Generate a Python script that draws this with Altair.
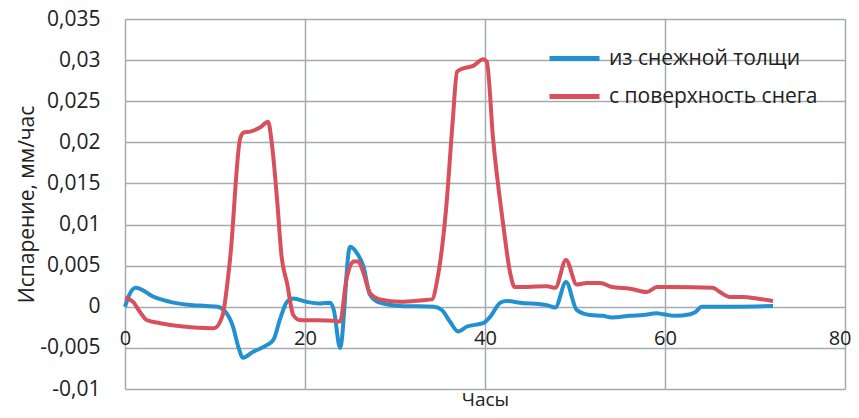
import altair as alt
import pandas as pd

# Series: из снежной толщи (blue)
blue_x = [0, 0.5, 1.2, 2, 3, 5, 7, 9, 10.3, 11, 12, 12.6, 13.1, 14.2, 15.7, 16.5, 17.2, 18, 18.7,
          20.2, 21.7, 22.8, 23.2, 23.9, 25, 25.9, 26.5, 27.2, 28.3, 30.6, 34.3, 35.2, 36.1, 37, 38,
          39.8, 40.6, 41.7, 42.4, 43.9, 46.9, 47.8, 49, 50.2, 51.7, 53.1, 54.1, 56.1, 57.6, 59.1,
          59.8, 61.1, 62.8, 63.3, 64.1, 65.3, 72]
blue_y = [0, 0.0015, 0.0023, 0.002, 0.0013, 0.0006, 0.00025, 0.0001, 0, -0.0004, -0.0024, -0.0049,
          -0.0062, -0.0055, -0.0047, -0.004, -0.0016, 0.0006, 0.001, 0.0006, 0.0004, 0.0005, -0.0004,
          -0.005, 0.0073, 0.0063, 0.0049, 0.0015, 0.0005, 0.0001, 0, -0.0004, -0.0018, -0.003, -0.0024,
          -0.002, -0.0012, 0.0005, 0.0007, 0.0005, 0.0002, -0.0001, 0.003, -0.0004, -0.001, -0.0011,
          -0.0013, -0.0011, -0.001, -0.0008, -0.0009, -0.0011, -0.0009, -0.0007, 0, 0, 0.0001]

# Series: с поверхность снега (red)
red_x = [0, 0.9, 1.7, 2.4, 3.9, 6.5, 9.5, 9.9, 10.8, 11.7, 12.8, 13.2, 13.9, 15, 15.9, 16.3, 16.9,
         17.4, 18, 18.7, 19.4, 23.1, 23.9, 24.6, 25.4, 25.9, 26.5, 27.2, 28.3, 30.6, 33.1, 34.1,
         34.7, 35.7, 36.4, 36.9, 37.6, 38.7, 39.8, 40.2, 40.9, 42, 42.8, 43.3, 46.9, 47.8, 49, 50.2,
         51.3, 52.8, 54.1, 56.1, 58, 59.1, 60.6, 65.3, 66.1, 67.2, 68.7, 70.2, 72]
red_y = [0.0011, 0.0006, -0.0007, -0.0016, -0.002, -0.0024, -0.0026, -0.0026, -0.0012, 0.0061,
         0.0205, 0.0212, 0.0213, 0.0218, 0.0225, 0.02, 0.013, 0.0061, 0.0029, -0.001, -0.0016,
         -0.0017, -0.0018, 0.0033, 0.0055, 0.0055, 0.0041, 0.0017, 0.0009, 0.0006, 0.0008, 0.0009,
         0.0033, 0.0122, 0.0224, 0.0286, 0.029, 0.0293, 0.0301, 0.0298, 0.0204, 0.0102, 0.0041,
         0.0024, 0.0025, 0.0023, 0.0057, 0.0027, 0.0029, 0.0029, 0.0024, 0.0022, 0.0018, 0.0024,
         0.0024, 0.0023, 0.0018, 0.0012, 0.0012, 0.001, 0.0007]

series_names = ["из снежной толщи", "с поверхность снега"]
series_colors = ["#2391d0", "#d8505b"]
x_ticks = [0, 20, 40, 60, 80]
y_ticks = [-0.01, -0.005, 0, 0.005, 0.01, 0.015, 0.02, 0.025, 0.03, 0.035]

rows = []
for i, (xs, ys) in enumerate([(blue_x, blue_y), (red_x, red_y)]):
    for k, (a, b) in enumerate(zip(xs, ys)):
        rows.append({"x": a, "y": b, "s": series_names[i], "o": k})
df = pd.DataFrame(rows)

FONT = "Open Sans"
TXT = "#222222"
GRID = "#a2abae"

chart = alt.Chart(df).mark_line(interpolate="monotone", strokeWidth=4).encode(
    x=alt.X("x:Q",
            scale=alt.Scale(domain=[0, 80], nice=False, zero=False),
            axis=alt.Axis(values=x_ticks, title="Часы", grid=True, gridColor=GRID, gridWidth=1.5,
                          domain=False, ticks=False, labelPadding=21, offset=-82,
                          labelAlign={"expr": "datum.value == 80 ? 'right' : 'center'"},
                          labelOffset={"expr": "datum.value == 80 ? 6 : 0"},
                          labelFont=FONT, labelFontSize=20, labelColor=TXT, labelFlush=False,
                          titleFont=FONT, titleFontSize=19, titleFontWeight="normal", titleColor=TXT,
                          titleY=92, titleBaseline="middle")),
    y=alt.Y("y:Q",
            scale=alt.Scale(domain=[-0.01, 0.035], nice=False, zero=False),
            axis=alt.Axis(values=y_ticks, title="Испарение, мм/час", grid=True, gridColor=GRID,
                          gridWidth=1.5, domain=False, ticks=False, labelPadding=25,
                          labelExpr="replace(replace(format(datum.value, '.3~f'), '.', ','), '\u2212', '-')",
                          labelFont=FONT, labelFontSize=21, labelColor=TXT,
                          titleFont=FONT, titleFontSize=21, titleFontWeight="normal", titleColor=TXT,
                          titleX=-98, titleY=185, titleAngle=270, titleBaseline="middle",
                          titleAlign="center")),
    color=alt.Color("s:N",
                    scale=alt.Scale(domain=series_names, range=series_colors),
                    legend=alt.Legend(orient="none", legendX=422, legendY=12, title=None,
                                      symbolType="stroke", symbolSize=2500, symbolStrokeWidth=5,
                                      labelFont=FONT, labelFontSize=21, labelColor=TXT,
                                      labelOffset=7, rowPadding=-7, padding=0,
                                      labelLimit=400)),
    order="o:Q",
).properties(
    width=720, height=370,
    autosize=alt.AutoSizeParams(type="none"),
    padding={"left": 117, "top": 11, "right": 6, "bottom": 21},
).configure_view(stroke=None).configure(background="white")

chart.save("out.html", embed_options={"renderer": "svg", "actions": False})
